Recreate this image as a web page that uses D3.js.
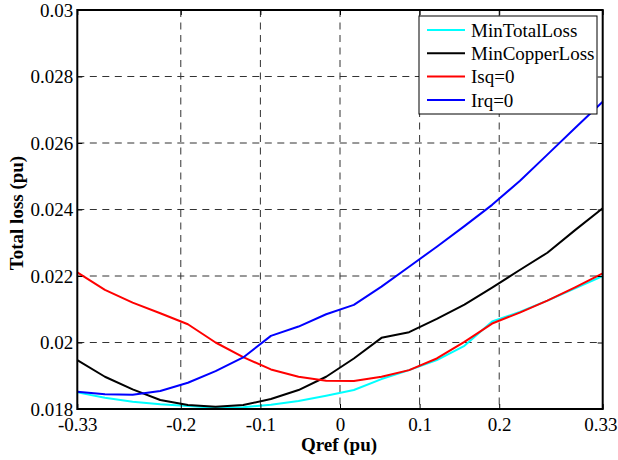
<!DOCTYPE html>
<html>
<head>
<meta charset="utf-8">
<script src="https://cdn.jsdelivr.net/npm/d3@7"></script>
<style>
  body { margin: 0; background: #fff; }
  svg text { font-family: "Liberation Serif", "Times New Roman", serif; }
</style>
</head>
<body>
<svg id="main-svg"></svg>
<script>
const svg = d3.select("#main-svg");

// data
const qref = [-0.33, -0.2953, -0.2605, -0.2258, -0.1911, -0.1563, -0.1216, -0.0868, -0.0521, -0.0174,
  0.0174, 0.0521, 0.0868, 0.1216, 0.1563, 0.1911, 0.2258, 0.2605, 0.2953, 0.33];
const minTotalLoss = [0.01850, 0.01834, 0.01822, 0.01814, 0.01809, 0.01804, 0.01805, 0.01813, 0.01824, 0.01840,
  0.01857, 0.01890, 0.01917, 0.01947, 0.01990, 0.02063, 0.02092, 0.02126, 0.02163, 0.02200];
const minCopperLoss = [0.01947, 0.01897, 0.01859, 0.01827, 0.01812, 0.01807, 0.01812, 0.01830, 0.01857, 0.01897,
  0.01952, 0.02014, 0.02031, 0.02071, 0.02114, 0.02165, 0.02218, 0.02270, 0.02338, 0.02404];
const isq0 = [0.02211, 0.02158, 0.02120, 0.02088, 0.02055, 0.02000, 0.01956, 0.01919, 0.01897, 0.01885,
  0.01884, 0.01897, 0.01917, 0.01952, 0.02002, 0.02057, 0.02090, 0.02126, 0.02166, 0.02208];
const irq0 = [0.01852, 0.01844, 0.01843, 0.01854, 0.01879, 0.01914, 0.01955, 0.02020, 0.02048, 0.02085,
  0.02113, 0.02168, 0.02228, 0.02288, 0.02350, 0.02414, 0.02486, 0.02565, 0.02645, 0.02724];

const seriesNames = ["MinTotalLoss", "MinCopperLoss", "Isq=0", "Irq=0"];
const seriesColors = ["#00ffff", "#000000", "#ff0000", "#0000ff"];
const seriesValues = [minTotalLoss, minCopperLoss, isq0, irq0];

const xTicks = [-0.33, -0.2, -0.1, 0, 0.1, 0.2, 0.33];
const xTickLabels = ["-0.33", "-0.2", "-0.1", "0", "0.1", "0.2", "0.33"];
const yTicks = [0.018, 0.02, 0.022, 0.024, 0.026, 0.028, 0.03];
const yTickLabels = ["0.018", "0.02", "0.022", "0.024", "0.026", "0.028", "0.03"];

// layout
const WIDTH = 618, HEIGHT = 460;
const PLOT_LEFT = 77.3, PLOT_RIGHT = 602.7, PLOT_TOP = 10, PLOT_BOTTOM = 409;
const FONT_SIZE = 19;

svg.attr("width", WIDTH).attr("height", HEIGHT);

const x = d3.scaleLinear().domain([-0.33, 0.33]).range([PLOT_LEFT, PLOT_RIGHT]);
const y = d3.scaleLinear().domain([0.018, 0.03]).range([PLOT_BOTTOM, PLOT_TOP]);

// grid
const grid = svg.append("g");
grid.selectAll(".vgrid")
  .data(xTicks.slice(1, -1))
  .join("line")
  .attr("x1", d => x(d)).attr("x2", d => x(d))
  .attr("y1", PLOT_TOP).attr("y2", PLOT_BOTTOM)
  .attr("stroke", "#333").attr("stroke-width", 1).attr("stroke-dasharray", "7,5.5");
grid.selectAll(".hgrid")
  .data(yTicks.slice(1, -1))
  .join("line")
  .attr("y1", d => y(d)).attr("y2", d => y(d))
  .attr("x1", PLOT_LEFT).attr("x2", PLOT_RIGHT)
  .attr("stroke", "#333").attr("stroke-width", 1).attr("stroke-dasharray", "7,5.5");

// curves
const line = d3.line()
  .x((d, i) => x(qref[i]))
  .y(d => y(d));

svg.append("g")
  .selectAll("path")
  .data(seriesValues)
  .join("path")
  .attr("d", d => line(d))
  .attr("fill", "none")
  .attr("stroke", (d, i) => seriesColors[i])
  .attr("stroke-width", 2)
  .attr("stroke-linejoin", "round");

// axes (ticks point inward, like matlab)
const xAxis = d3.axisBottom(x)
  .tickValues(xTicks)
  .tickFormat((d, i) => xTickLabels[i])
  .tickSizeInner(-5).tickSizeOuter(0).tickPadding(9);
const yAxis = d3.axisLeft(y)
  .tickValues(yTicks)
  .tickFormat((d, i) => yTickLabels[i])
  .tickSizeInner(-5).tickSizeOuter(0).tickPadding(4);

const gx = svg.append("g").attr("transform", `translate(0 ${PLOT_BOTTOM})`).call(xAxis);
const gy = svg.append("g").attr("transform", `translate(${PLOT_LEFT} 0)`).call(yAxis);
const gxTop = svg.append("g").attr("transform", `translate(0 ${PLOT_TOP})`)
  .call(d3.axisTop(x).tickValues(xTicks).tickFormat("").tickSizeInner(-5).tickSizeOuter(0));
const gyRight = svg.append("g").attr("transform", `translate(${PLOT_RIGHT} 0)`)
  .call(d3.axisRight(y).tickValues(yTicks).tickFormat("").tickSizeInner(-5).tickSizeOuter(0));

[gx, gy, gxTop, gyRight].forEach(g => {
  g.select(".domain").remove();
  g.selectAll(".tick line").attr("stroke", "#000");
  g.selectAll("text")
    .attr("fill", "#000")
    .attr("font-size", FONT_SIZE)
    .attr("font-family", "'Liberation Serif', 'Times New Roman', serif");
});

// last x label would run past the edge, pull it in
gx.selectAll(".tick text")
  .filter((d, i) => i === xTicks.length - 1)
  .attr("text-anchor", "end")
  .attr("x", WIDTH - 1 - PLOT_RIGHT);

// box
svg.append("rect")
  .attr("x", PLOT_LEFT).attr("y", PLOT_TOP)
  .attr("width", PLOT_RIGHT - PLOT_LEFT).attr("height", PLOT_BOTTOM - PLOT_TOP)
  .attr("fill", "none").attr("stroke", "#000").attr("stroke-width", 2);

// axis titles
svg.append("text")
  .attr("x", 339).attr("y", 451)
  .attr("text-anchor", "middle")
  .style("font-size", FONT_SIZE + "px").style("font-weight", "bold")
  .text("Qref (pu)");

svg.append("text")
  .attr("transform", "translate(23 213) rotate(-90)")
  .attr("text-anchor", "middle")
  .style("font-size", FONT_SIZE + "px").style("font-weight", "bold")
  .text("Total loss (pu)");

// legend
const LEGEND_X = 419, LEGEND_Y = 16, LEGEND_W = 178, LEGEND_H = 98, ROW_H = 23.3;
const legend = svg.append("g").attr("transform", `translate(${LEGEND_X} ${LEGEND_Y})`);
legend.append("rect")
  .attr("width", LEGEND_W).attr("height", LEGEND_H)
  .attr("fill", "#fff").attr("stroke", "#000").attr("stroke-width", 1);

const rows = legend.selectAll(".row")
  .data(seriesNames)
  .join("g")
  .attr("transform", (d, i) => `translate(0 ${14 + i * ROW_H})`);
rows.append("line")
  .attr("x1", 8).attr("x2", 46)
  .attr("stroke", (d, i) => seriesColors[i])
  .attr("stroke-width", 2);
rows.append("text")
  .attr("x", 52).attr("dy", "0.35em")
  .style("font-size", FONT_SIZE + "px")
  .text(d => d);
</script>
</body>
</html>
